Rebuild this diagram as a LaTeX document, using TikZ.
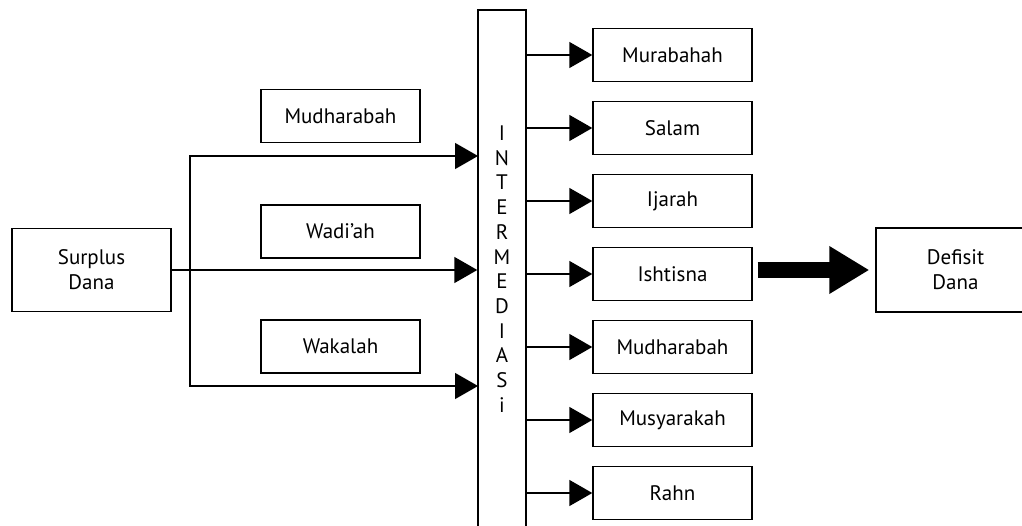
\documentclass[tikz,border=0pt]{standalone}
\usepackage{fontspec}
\setmainfont{PT Sans}
\usetikzlibrary{arrows.meta,positioning}

\tikzset{
  box/.style={draw, line width=1.4pt, minimum width=159pt, minimum height=53pt,
    inner sep=0pt, align=center, font=\fontsize{21}{25}\selectfont},
  arr/.style={line width=1.4pt, -{Triangle[length=23pt,width=26pt]}},
  bigarr/.style={line width=16pt, -{Triangle[length=40pt,width=45pt]}},
}

\begin{document}
\begin{tikzpicture}[x=1pt,y=-1pt]
\useasboundingbox (0,0) rectangle (1022,526);

% sumber dana
\node[box, minimum height=83pt] (surplus) at (91.5,270) {Surplus\\Dana};
\node[box] (mudL) at (340.5,116) {Mudharabah};
\node[box] (wadiah) at (340.5,231.5) {Wadi’ah};
\node[box] (wakalah) at (340.5,346.5) {Wakalah};

% intermediasi
\node[draw, line width=1.4pt, minimum width=48pt, minimum height=518pt, inner sep=0pt,
  align=center, font=\fontsize{21}{24.7}\selectfont] (interm) at (502,269)
  {I\\N\\T\\E\\R\\M\\E\\D\\I\\A\\S\\i};

% penyaluran dana
\node[box] (murab) at (672.5,55) {Murabahah};
\node[box] (salam) at (672.5,128) {Salam};
\node[box] (ijarah) at (672.5,201) {Ijarah};
\node[box] (ishtisna) at (672.5,274) {Ishtisna};
\node[box] (mudR) at (672.5,347) {Mudharabah};
\node[box] (musy) at (672.5,420) {Musyarakah};
\node[box] (rahn) at (672.5,493) {Rahn};

\node[box, minimum height=84pt] (defisit) at (955.5,270) {Defisit\\Dana};

% panah
\coordinate (split) at (190,270);
\coordinate (in1) at (478,156);
\coordinate (in3) at (478,386);
\draw[arr] (surplus.east) -- (surplus.east -| interm.west);
\draw[arr] (split) |- (in1);
\draw[arr] (split) |- (in3);

\foreach \n in {murab,salam,ijarah,ishtisna,mudR,musy,rahn}
  \draw[arr] (interm.east |- \n.west) -- (\n.west);

\draw[bigarr, shorten <=5pt, shorten >=6pt] (ishtisna.east |- defisit.west) -- (defisit.west);

\end{tikzpicture}
\end{document}
